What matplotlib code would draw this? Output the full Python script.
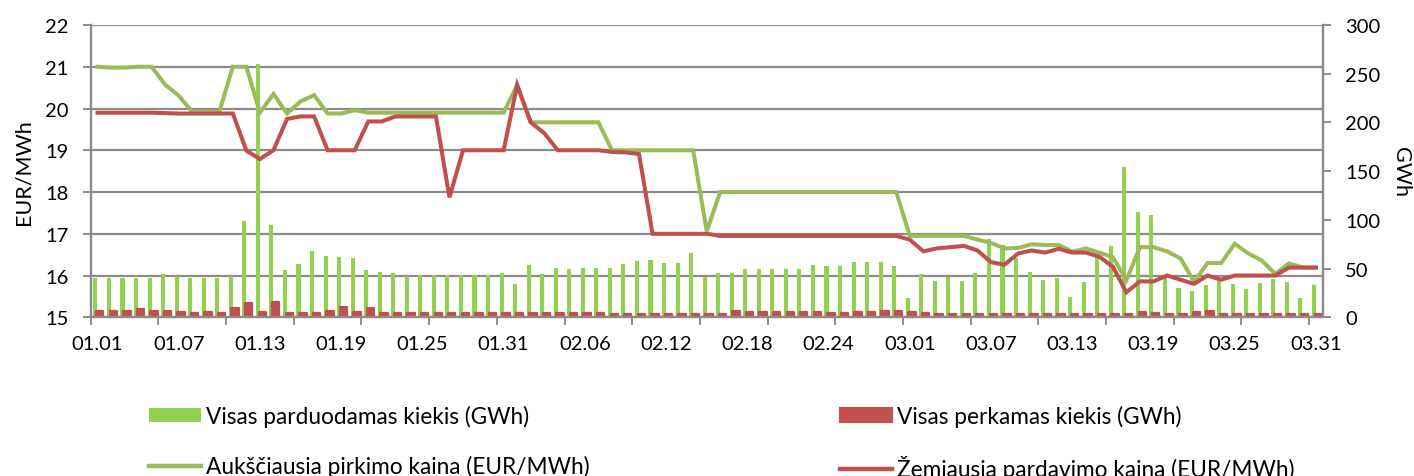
import matplotlib
matplotlib.use("Agg")
import matplotlib.pyplot as plt
from matplotlib.patches import Patch
from matplotlib.lines import Line2D
import numpy as np
import pandas as pd

# ---- data ----
dates = pd.date_range("2012-01-01", "2012-03-31", freq="D").strftime("%m.%d").tolist()
tick_labels = ["01.01", "01.07", "01.13", "01.19", "01.25", "01.31", "02.06", "02.12",
               "02.18", "02.24", "03.01", "03.07", "03.13", "03.19", "03.25", "03.31"]

high_buy = [21.0, 20.98, 20.98, 21.0, 21.0, 20.57, 20.31, 19.92, 19.92, 19.92,
            21.0, 21.0, 19.9, 20.35, 19.88, 20.17, 20.32, 19.88, 19.88, 19.96,
            19.9, 19.9, 19.9, 19.9, 19.9, 19.9, 19.9, 19.9, 19.9, 19.9,
            19.9, 20.56, 19.67, 19.67, 19.67, 19.67, 19.67, 19.67, 19.0, 19.0,
            19.0, 19.0, 19.0, 19.0, 19.0, 17.06, 18.0, 18.0, 18.0, 18.0,
            18.0, 18.0, 18.0, 18.0, 18.0, 18.0, 18.0, 18.0, 18.0, 18.0,
            16.95, 16.95, 16.95, 16.95, 16.95, 16.86, 16.78, 16.65, 16.66, 16.75,
            16.73, 16.73, 16.57, 16.65, 16.55, 16.44, 15.89, 16.68, 16.68, 16.58,
            16.41, 15.85, 16.3, 16.3, 16.76, 16.53, 16.36, 16.04, 16.29, 16.2,
            16.19]

low_sell = [19.9, 19.9, 19.9, 19.9, 19.9, 19.89, 19.88, 19.88, 19.88, 19.88,
            19.88, 18.99, 18.79, 19.0, 19.75, 19.81, 19.81, 19.0, 19.0, 19.0,
            19.69, 19.69, 19.81, 19.81, 19.81, 19.81, 17.87, 19.0, 19.0, 19.0,
            19.0, 20.56, 19.67, 19.41, 19.0, 19.0, 19.0, 19.0, 18.96, 18.95,
            18.91, 17.0, 17.0, 17.0, 17.0, 17.0, 16.95, 16.95, 16.95, 16.95,
            16.95, 16.95, 16.95, 16.95, 16.95, 16.95, 16.95, 16.95, 16.95, 16.95,
            16.86, 16.58, 16.65, 16.68, 16.71, 16.6, 16.32, 16.26, 16.53, 16.6,
            16.55, 16.64, 16.55, 16.55, 16.45, 16.21, 15.6, 15.86, 15.86, 16.0,
            15.9, 15.8, 16.0, 15.9, 16.0, 16.0, 16.0, 16.0, 16.19, 16.19,
            16.19]

sold_gwh = [40.0, 40.7, 40.7, 40.7, 40.7, 44.1, 42.7, 40.7, 40.7, 40.7,
            42.7, 99.2, 260.0, 95.1, 48.9, 54.4, 68.0, 62.9, 61.9, 60.9,
            48.5, 46.2, 45.5, 42.7, 43.4, 43.4, 43.4, 43.4, 43.4, 43.4,
            45.5, 34.2, 53.4, 44.4, 50.6, 49.9, 50.6, 50.6, 50.6, 54.4,
            57.8, 58.8, 55.4, 55.4, 65.7, 41.7, 45.5, 45.5, 49.6, 49.6,
            49.6, 49.6, 49.6, 53.4, 53.0, 53.0, 56.5, 56.5, 56.5, 53.0,
            19.5, 44.1, 37.6, 41.0, 37.6, 45.1, 80.4, 74.5, 60.5, 46.8,
            38.3, 40.0, 20.8, 35.9, 63.2, 73.2, 154.0, 108.4, 105.0, 41.0,
            30.1, 27.3, 33.5, 37.6, 34.2, 29.0, 35.2, 39.3, 35.9, 19.8,
            33.2]

bought_gwh = [6.8, 6.2, 6.8, 8.5, 6.8, 6.5, 5.1, 4.4, 5.8, 4.4,
              9.2, 15.0, 5.1, 15.7, 4.4, 4.4, 4.4, 6.5, 10.9, 5.1,
              9.2, 4.4, 4.4, 4.4, 4.4, 4.4, 4.4, 4.4, 4.4, 4.4,
              4.4, 4.4, 4.4, 4.4, 4.4, 4.4, 4.4, 4.4, 3.5, 3.5,
              3.5, 3.5, 3.2, 3.2, 3.2, 3.2, 3.2, 6.5, 5.8, 5.5,
              5.8, 5.1, 5.1, 5.1, 4.4, 4.4, 5.1, 5.1, 6.5, 6.2,
              5.1, 4.4, 3.8, 3.8, 3.8, 3.8, 3.8, 3.8, 3.8, 3.8,
              3.8, 3.8, 3.8, 3.8, 3.8, 3.8, 3.8, 5.8, 4.4, 3.8,
              3.8, 5.1, 6.2, 3.8, 3.8, 3.8, 3.8, 3.8, 3.8, 3.8,
              3.8]

label_sold = "Visas parduodamas kiekis (GWh)"
label_bought = "Visas perkamas kiekis (GWh)"
label_high = "Aukščiausia pirkimo kaina (EUR/MWh)"
label_low = "Žemiausia pardavimo kaina (EUR/MWh)"

# ---- style ----
plt.rcParams["font.family"] = ["Lato", "DejaVu Sans"]
FS = 14.5
FS_LBL = 15.5
FS_LEG = 16.3
C_GBAR = "#92D050"
C_RBAR = "#C0504D"
C_GLINE = "#9BBB59"
C_RLINE = "#C0504D"
C_GRID = "#8C8C8C"

W, H = 1414, 477
fig = plt.figure(figsize=(W / 100, H / 100), dpi=100)
left, right, top, bottom = 90.7, 1322.7, 26.0, 318.3
ax = fig.add_axes([left / W, 1 - bottom / H, (right - left) / W, (bottom - top) / H])
ax2 = ax.twinx()

x = np.arange(len(dates))

# bars on secondary axis
ax2.bar(x - 0.15, sold_gwh, width=0.3, color=C_GBAR, linewidth=0, zorder=2)
ax2.bar(x + 0.17, bought_gwh, width=0.55, color=C_RBAR, edgecolor=C_RBAR,
        linewidth=1.6, joinstyle="round", zorder=3)
ax2.set_ylim(0, 300)
ax2.set_yticks(np.arange(0, 301, 50))

# lines on primary axis, drawn above bars
ax.set_zorder(ax2.get_zorder() + 1)
ax.patch.set_visible(False)
ax.plot(x, high_buy, color=C_GLINE, lw=2.9, solid_joinstyle="miter", zorder=4)
ax.plot(x, low_sell, color=C_RLINE, lw=2.9, solid_joinstyle="miter", zorder=5)
ax.set_ylim(15, 22)
ax.set_yticks(np.arange(15, 23, 1))
ax.set_xlim(-0.5, len(dates) - 0.5)

for v in range(15, 23):
    ax2.axhline((v - 15) / 7 * 300, color=C_GRID, lw=1.6, zorder=1)

# x ticks
lbl_pos = [dates.index(t) for t in tick_labels]
ax.set_xticks(lbl_pos)
ax.set_xticklabels(tick_labels, fontsize=FS)
ax.tick_params(axis="x", which="major", length=0, pad=13)
ax.set_xticks(np.arange(-0.5, len(dates), 5), minor=True)
ax.tick_params(axis="x", which="minor", length=6, width=1.4, color=C_GRID, direction="out")

ax.tick_params(axis="y", length=6, width=1.4, color=C_GRID, labelsize=FS, pad=10)
ax2.tick_params(axis="y", length=6, width=1.4, color=C_GRID, labelsize=FS, pad=10)

for a in (ax, ax2):
    for s in a.spines.values():
        s.set_color(C_GRID)
        s.set_linewidth(1.6)
    a.spines["top"].set_visible(False)

ax.set_ylabel("EUR/MWh", fontsize=FS_LBL, labelpad=8)
ax2.set_ylabel("GWh", fontsize=FS_LBL, rotation=-90, labelpad=22)

# legends (two columns, placed below the plot)
h_sold = Patch(facecolor=C_GBAR, edgecolor="none")
h_bought = Patch(facecolor=C_RBAR, edgecolor=C_RBAR, linewidth=1.5, joinstyle="round")
h_high = Line2D([], [], color=C_GLINE, lw=3.2)
h_low = Line2D([], [], color=C_RLINE, lw=3.2)
common = dict(loc="upper left", frameon=False, fontsize=FS_LEG, handlelength=2.3,
              handleheight=0.62, handletextpad=0.22, labelspacing=1.25,
              borderpad=0, borderaxespad=0)
fig.legend([h_sold, h_high], [label_sold, label_high],
           bbox_to_anchor=(149 / W, 1 - 406 / H), **common)
fig.legend([h_bought, h_low], [label_bought, label_low],
           bbox_to_anchor=(840 / W, 1 - 406 / H), **common)

fig.savefig("out.png", dpi=100)
